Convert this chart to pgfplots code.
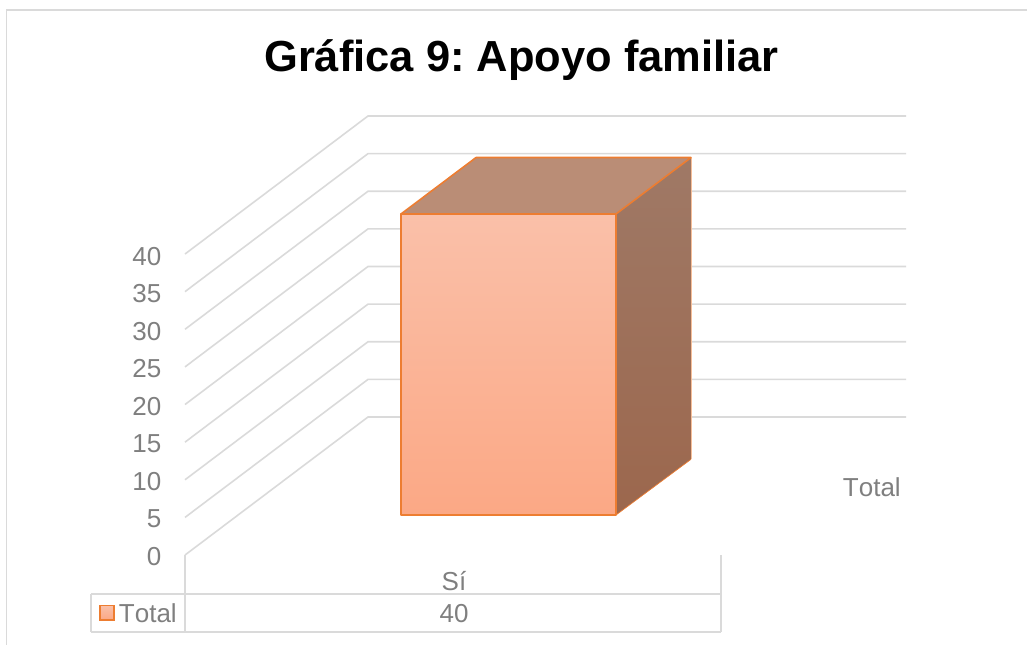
\documentclass[border=0pt]{standalone}
\usepackage{fontspec}
\setmainfont[Ligatures={NoCommon}]{Liberation Sans}
\usepackage{pgfplots}
\pgfplotsset{compat=1.18}
\definecolor{gridc}{HTML}{DADADA}
\definecolor{textc}{HTML}{7F7F7F}
\definecolor{edgec}{HTML}{ED7D31}
\definecolor{fronttop}{HTML}{FAC0A9}
\definecolor{frontbot}{HTML}{FBA885}
\definecolor{topface}{HTML}{BA8D76}
\definecolor{sidetop}{HTML}{9F7966}
\definecolor{sidebot}{HTML}{9C674D}
\tikzset{
  wall/.style={draw=gridc, line width=1.2pt},
  lab/.style={text=textc, font=\fontsize{19.5}{20}\selectfont\addfontfeature{Kerning=Off}, inner sep=0pt}
}
\begin{document}
\frenchspacing
\begin{tikzpicture}
\path[use as bounding box] (0,0) rectangle (770.25pt,483.75pt);
\begin{axis}[
  at={(0pt,0pt)}, anchor=south west,
  width=770.25pt, height=483.75pt, scale only axis,
  xmin=0, xmax=1027, ymin=-17.276, ymax=68.439,
  hide axis, clip=false,
  every axis plot/.append style={no markers}
]
% outer frame
\addplot[wall] coordinates {(6.5,-17.276) (6.5,67.11) (1027,67.11)};
% walls
\addplot[wall] coordinates {(185,-5.32) (368,13.02) (906,13.02)};
\addplot[wall] coordinates {(185,-0.32) (368,18.02) (906,18.02)};
\addplot[wall] coordinates {(185,4.68) (368,23.02) (906,23.02)};
\addplot[wall] coordinates {(185,9.68) (368,28.02) (906,28.02)};
\addplot[wall] coordinates {(185,14.68) (368,33.02) (906,33.02)};
\addplot[wall] coordinates {(185,19.68) (368,38.02) (906,38.02)};
\addplot[wall] coordinates {(185,24.68) (368,43.02) (906,43.02)};
\addplot[wall] coordinates {(185,29.68) (368,48.02) (906,48.02)};
\addplot[wall] coordinates {(185,34.68) (368,53.02) (906,53.02)};
% data table
\addplot[wall] coordinates {(185,-5.32) (185,-15.55)};
\addplot[wall] coordinates {(721,-5.32) (721,-15.55)};
\addplot[wall] coordinates {(91,-10.5) (721,-10.5)};
\addplot[wall] coordinates {(91,-15.55) (721,-15.55)};
\addplot[wall] coordinates {(91,-10.5) (91,-15.55)};
% bar
\addplot[draw=none, top color=sidetop, bottom color=sidebot]
  coordinates {(616,0) (691,7.4) (691,47.5) (616,40)} -- cycle;
\addplot[draw=edgec, line width=0.5pt] coordinates {(616,0) (691,7.4)};
\addplot[draw=edgec!50!white, line width=0.4pt] coordinates {(691,7.4) (691,47.5)};
\addplot[draw=edgec, line width=1.2pt, line join=round, fill=topface]
  coordinates {(401,40) (476,47.5) (691,47.5) (616,40)} -- cycle;
\addplot[draw=edgec, line width=1.2pt, line join=round, top color=fronttop, bottom color=frontbot]
  coordinates {(401,0) (616,0) (616,40) (401,40)} -- cycle;
% legend key
\addplot[draw=edgec, line width=1.2pt, top color=fronttop, bottom color=frontbot]
  coordinates {(100,-12.03) (114,-12.03) (114,-13.96) (100,-13.96)} -- cycle;
% text
\node[anchor=base, inner sep=0pt, font=\fontsize{32.6}{34}\selectfont\bfseries, text=black]
  at (axis cs:521.5,59.0) {Gráfica 9: Apoyo familiar};
\node[lab, anchor=base east] at (axis cs:901,2.4) {Total};
\node[lab, anchor=base east] at (axis cs:177,-14.33) {Total};
\node[lab, anchor=base] at (axis cs:454,-10.05) {Sí};
\node[lab, anchor=base] at (axis cs:454,-14.33) {40};
\end{axis}
\begin{axis}[
  at={(138.75pt,67.5pt)}, anchor=south west,
  width=540.75pt, height=225pt, scale only axis,
  xmin=0, xmax=1, ymin=0, ymax=40,
  axis y line*=left, axis x line=none,
  axis line style={draw=none},
  ytick={0,5,...,40}, major tick length=0pt,
  yticklabel style={text=textc, font=\fontsize{19.5}{20}\selectfont, inner xsep=0pt, xshift=-17.5pt, yshift=-1pt,
    /pgf/number format/assume math mode=true},
]
\addplot[draw=none, forget plot] coordinates {(0,0) (0,40)};
\end{axis}
\end{tikzpicture}
\end{document}
